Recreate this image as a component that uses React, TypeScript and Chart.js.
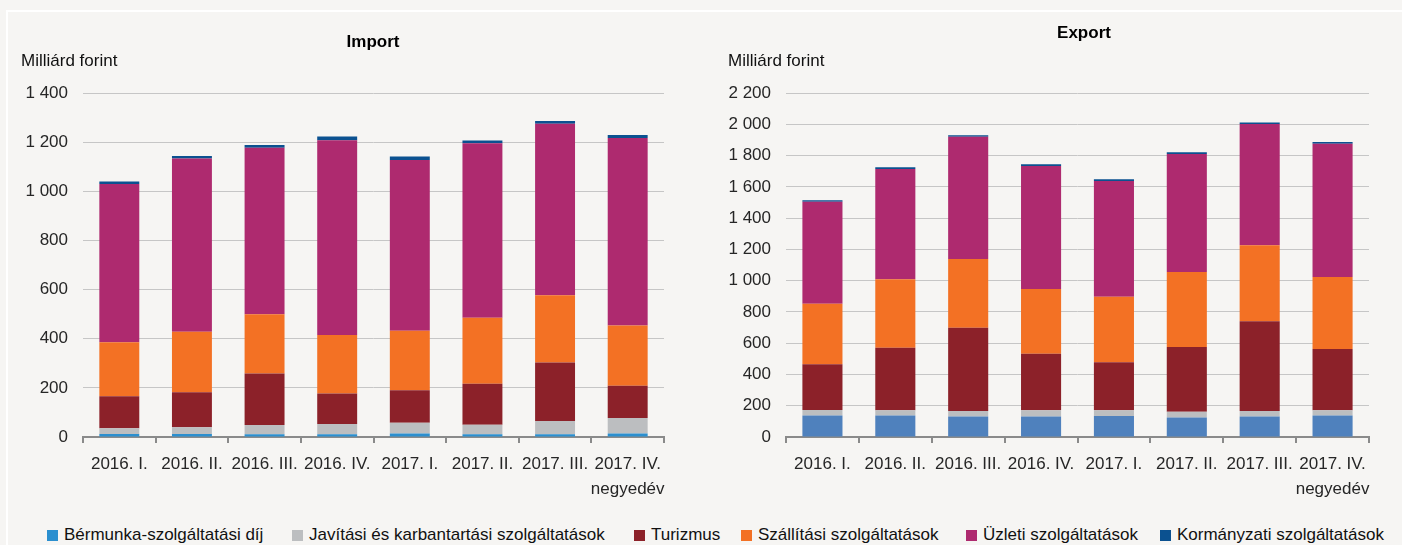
import React, { useEffect, useRef } from "react";
import { Chart, registerables } from "chart.js";

Chart.register(...registerables);

const FONT = "'Liberation Sans', Arial, Helvetica, sans-serif";
const FS = 17;

// ---- data ----
const categories: (string | string[])[] = [
  "2016. I.",
  "2016. II.",
  "2016. III.",
  "2016. IV.",
  "2017. I.",
  "2017. II.",
  "2017. III.",
  ["2017. IV.", "negyedév"],
];

const seriesNames = [
  "Bérmunka-szolgáltatási díj",
  "Javítási és karbantartási szolgáltatások",
  "Turizmus",
  "Szállítási szolgáltatások",
  "Üzleti szolgáltatások",
  "Kormányzati szolgáltatások",
];

const importBermunka = [12, 12, 11, 11, 14, 11, 11, 14];
const importJavitasi = [24, 28, 38, 42, 44, 39, 54, 63];
const importTurizmus = [130, 142, 209, 124, 132, 167, 238, 132];
const importSzallitasi = [220, 246, 242, 238, 242, 268, 274, 245];
const importUzleti = [644, 705, 677, 793, 695, 711, 698, 763];
const importKormanyzati = [10, 11, 11, 15, 15, 11, 11, 12];

const exportBermunka = [137, 137, 131, 131, 135, 125, 131, 137];
const exportJavitasi = [36, 34, 36, 40, 36, 36, 36, 34];
const exportTurizmus = [292, 400, 531, 362, 307, 414, 573, 392];
const exportSzallitasi = [387, 438, 440, 414, 419, 480, 487, 461];
const exportUzleti = [653, 705, 783, 786, 741, 755, 774, 852];
const exportKormanyzati = [9, 11, 8, 11, 10, 11, 11, 10];

const importMax = 1400;
const exportMax = 2200;
const tickStep = 200;

const legendColors = ["#2B8FCF", "#BCBEC0", "#8C2129", "#F37124", "#AE2A6F", "#0B5190"];
const importColors = ["#2B8FCF", "#BCBEC0", "#8C2129", "#F37124", "#AE2A6F", "#0B5190"];
const exportColors = ["#4F81BD", "#BCBEC0", "#8C2129", "#F37124", "#AE2A6F", "#0B5190"];

const legendX = [47, 292, 634, 741, 966, 1160];

const fmt = (v: number) => String(v).replace(/\B(?=(\d{3})+(?!\d))/g, " ");

const textPlugin = {
  id: "panelText",
  afterDraw(chart: any, _args: any, opts: any) {
    const ctx = chart.ctx;
    ctx.save();
    ctx.fillStyle = "#000";
    ctx.textBaseline = "middle";
    ctx.font = `bold ${FS}px ${FONT}`;
    ctx.textAlign = "center";
    ctx.fillText(opts.title, opts.titleX, opts.titleY);
    ctx.font = `${FS}px ${FONT}`;
    ctx.textAlign = "left";
    ctx.fillStyle = "#111";
    ctx.fillText(opts.unit, opts.unitX, opts.unitY);
    ctx.restore();
  },
};

function makeConfig(
  series: number[][],
  colors: string[],
  max: number,
  axisWidth: number,
  padRight: number,
  text: any
): any {
  return {
    type: "bar",
    data: {
      labels: categories,
      datasets: series.map((d, i) => ({
        label: seriesNames[i],
        data: d,
        backgroundColor: colors[i],
        borderWidth: 0,
        barPercentage: 0.55,
        categoryPercentage: 1,
      })),
    },
    options: {
      animation: false,
      responsive: false,
      maintainAspectRatio: false,
      layout: { padding: { top: 93, right: padRight, bottom: 0, left: 0 } },
      plugins: {
        legend: { display: false },
        tooltip: { enabled: false },
        panelText: text,
      },
      scales: {
        x: {
          stacked: true,
          grid: {
            display: true,
            drawOnChartArea: false,
            drawTicks: true,
            tickLength: 6,
            color: "#8A8A8A",
            lineWidth: 2,
            offset: true,
          },
          border: { display: true, color: "#8A8A8A", width: 2 },
          ticks: {
            color: "#262626",
            font: { family: FONT, size: FS, lineHeight: 1.45 },
            padding: 9,
            maxRotation: 0,
            autoSkip: false,
          },
          afterFit: (s: any) => {
            s.height = 68;
          },
        },
        y: {
          stacked: true,
          min: 0,
          max,
          ticks: {
            stepSize: tickStep,
            padding: 15,
            color: "#262626",
            font: { family: FONT, size: FS },
            callback: (v: any) => fmt(Number(v)),
          },
          grid: { color: "#C6C6C6", lineWidth: 1, drawTicks: false },
          border: { display: false },
          afterFit: (s: any) => {
            s.width = axisWidth;
          },
        },
      },
    },
    plugins: [textPlugin],
  };
}

function BarPanel(props: { config: any; width: number; height: number; left: number }) {
  const ref = useRef<HTMLCanvasElement | null>(null);
  useEffect(() => {
    if (!ref.current) return;
    const chart = new Chart(ref.current, props.config);
    return () => chart.destroy();
  }, []);
  return (
    <canvas
      ref={ref}
      width={props.width}
      height={props.height}
      style={{ position: "absolute", left: props.left, top: 0, width: props.width, height: props.height }}
    />
  );
}

export default function App() {
  const importConfig = makeConfig(
    [importBermunka, importJavitasi, importTurizmus, importSzallitasi, importUzleti, importKormanyzati],
    importColors,
    importMax,
    83,
    36,
    { title: "Import", titleX: 373, titleY: 42, unit: "Milliárd forint", unitX: 21, unitY: 61 }
  );
  const exportConfig = makeConfig(
    [exportBermunka, exportJavitasi, exportTurizmus, exportSzallitasi, exportUzleti, exportKormanyzati],
    exportColors,
    exportMax,
    86,
    33,
    { title: "Export", titleX: 384, titleY: 33, unit: "Milliárd forint", unitX: 28, unitY: 61 }
  );
  return (
    <div
      style={{
        position: "fixed",
        left: 0,
        top: 0,
        width: 1402,
        height: 545,
        background: "#F6F5F3",
        overflow: "hidden",
        fontFamily: FONT,
      }}
    >
      <div
        style={{
          position: "absolute",
          left: 6,
          top: 10,
          width: 1410,
          height: 560,
          borderTop: "2px solid #FFFFFF",
          borderLeft: "2px solid #FFFFFF",
        }}
      />
      <BarPanel config={importConfig} width={700} height={505} left={0} />
      <BarPanel config={exportConfig} width={702} height={505} left={700} />
      {seriesNames.map((name, i) => (
        <div
          key={name}
          style={{
            position: "absolute",
            left: legendX[i],
            top: 525,
            height: 20,
            display: "flex",
            alignItems: "center",
            whiteSpace: "nowrap",
            fontSize: FS,
            color: "#111",
            lineHeight: "20px",
          }}
        >
          <span
            style={{
              display: "inline-block",
              width: 11,
              height: 11,
              background: legendColors[i],
              marginRight: 6,
            }}
          />
          <span>{name}</span>
        </div>
      ))}
    </div>
  );
}
